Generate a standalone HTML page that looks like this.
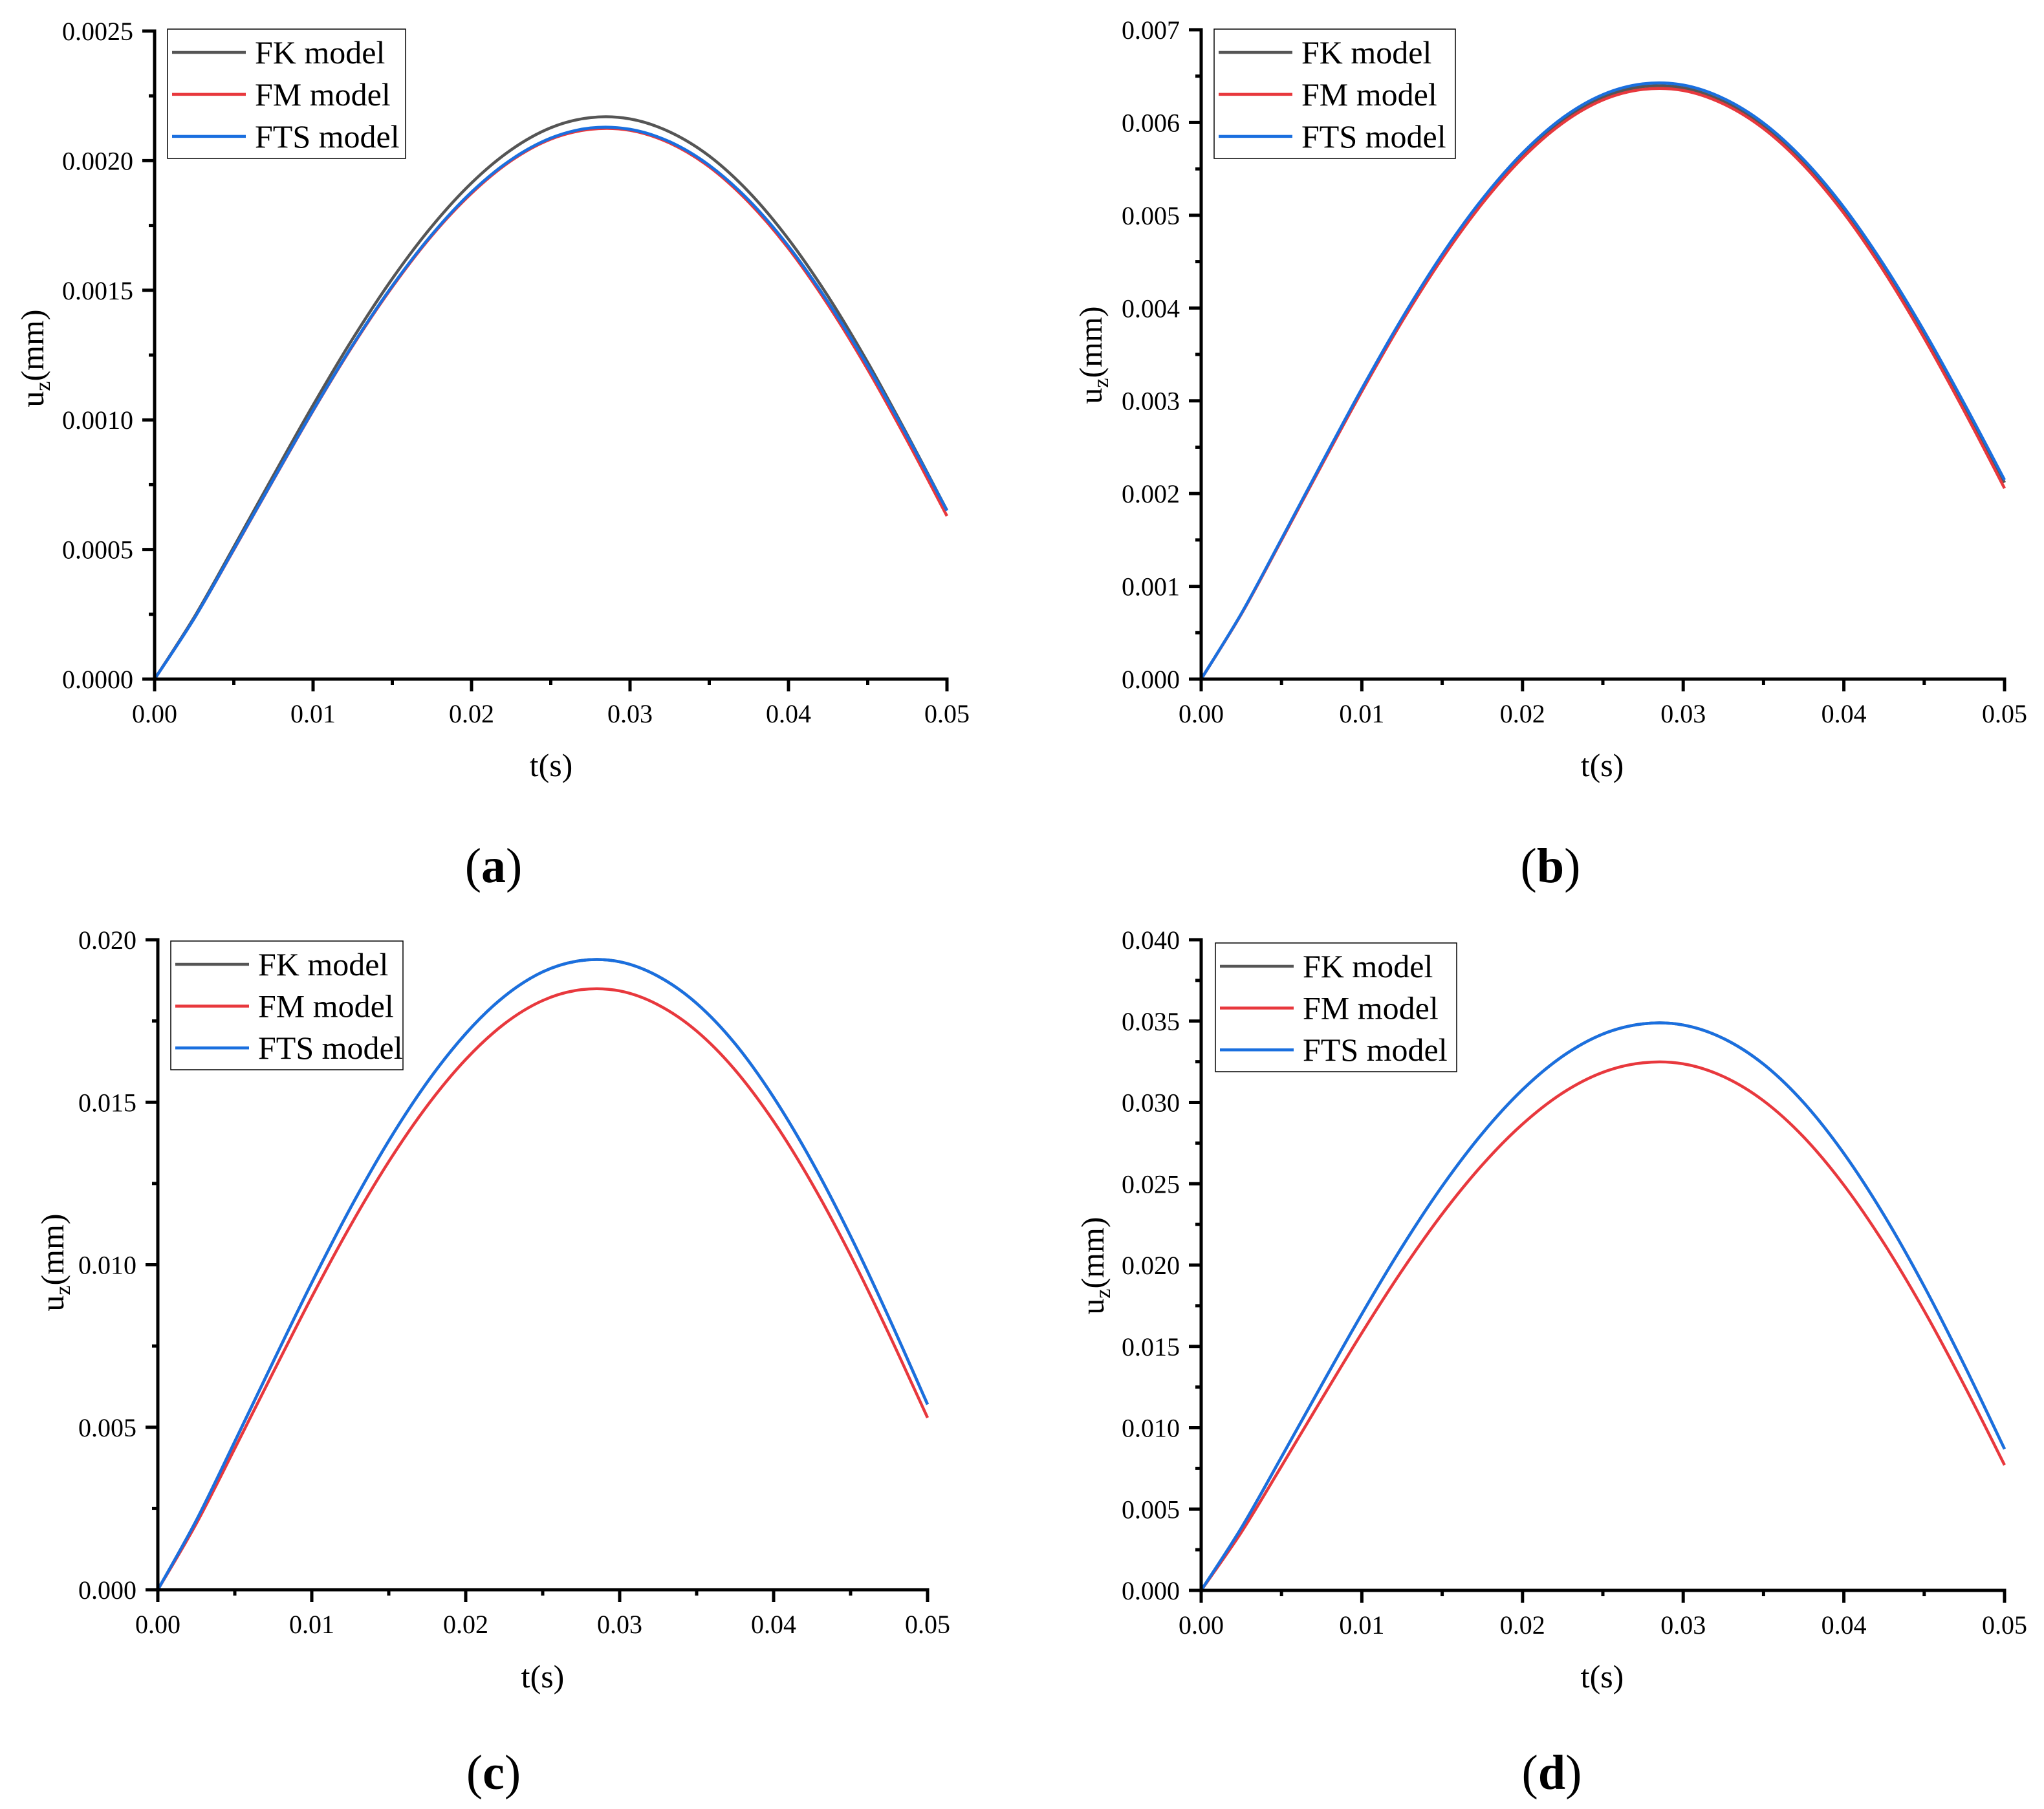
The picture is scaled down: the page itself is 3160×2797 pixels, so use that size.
<!DOCTYPE html>
<html><head><meta charset="utf-8"><style>
html,body{margin:0;padding:0;background:#fff;}
svg{display:block;font-family:"Liberation Serif","Times New Roman",serif;}
</style></head><body>
<svg id="fig" width="3160" height="2797" viewBox="0 0 3160 2797" xmlns="http://www.w3.org/2000/svg"></svg>
<script>
// shared time samples (s)
const tValues = [0,0.0025,0.005,0.0075,0.01,0.0125,0.015,0.0175,0.02,0.0225,0.025,0.0275,0.03,0.0325,0.035,0.0375,0.04,0.0425,0.045,0.0475,0.05];
const xTicks = [0,0.01,0.02,0.03,0.04,0.05];
const xTickLabels = ["0.00","0.01","0.02","0.03","0.04","0.05"];
const seriesNames = ["FK model","FM model","FTS model"];

// panel (a)
const aFK  = [0,0.000239,0.000510,0.000786,0.001057,0.001313,0.001545,0.001747,0.001914,0.002042,0.002127,0.002166,0.002161,0.002111,0.002018,0.001879,0.001697,0.001476,0.001222,0.000942,0.000651];
const aFM  = [0,0.000234,0.000499,0.000769,0.001035,0.001286,0.001513,0.001711,0.001874,0.002000,0.002083,0.002121,0.002117,0.002068,0.001976,0.001839,0.001661,0.001443,0.001194,0.000919,0.000629];
const aFTS = [0,0.000234,0.000501,0.000771,0.001037,0.001289,0.001517,0.001715,0.001879,0.002004,0.002087,0.002126,0.002121,0.002073,0.001982,0.001847,0.001670,0.001454,0.001208,0.000936,0.000650];
const aYTicks = ["0.0000","0.0005","0.0010","0.0015","0.0020","0.0025"];
// panel (b)
const bFK  = [0,0.000704,0.001504,0.002317,0.003117,0.003872,0.004557,0.005152,0.005645,0.006022,0.006272,0.006387,0.006374,0.006227,0.005966,0.005571,0.005057,0.004434,0.003722,0.002939,0.002118];
const bFM  = [0,0.000701,0.001497,0.002306,0.003102,0.003854,0.004535,0.005128,0.005618,0.005994,0.006243,0.006357,0.006345,0.006201,0.005934,0.005538,0.005021,0.004394,0.003675,0.002887,0.002057];
const bFTS = [0,0.000707,0.001511,0.002328,0.003131,0.003890,0.004578,0.005176,0.005671,0.006051,0.006301,0.006417,0.006404,0.006260,0.005994,0.005600,0.005086,0.004462,0.003750,0.002968,0.002147];
const bYTicks = ["0.000","0.001","0.002","0.003","0.004","0.005","0.006","0.007"];
// panel (c)
const cFK  = [0,0.002134,0.004559,0.007023,0.009448,0.011737,0.013813,0.015617,0.017111,0.018255,0.019012,0.019361,0.019322,0.018876,0.018042,0.016800,0.015152,0.013162,0.010878,0.008361,0.005703];
const cFM  = [0,0.002035,0.004348,0.006697,0.009010,0.011193,0.013172,0.014893,0.016317,0.017409,0.018130,0.018463,0.018426,0.017997,0.017191,0.015990,0.014411,0.012493,0.010291,0.007859,0.005291];
const cFTS = [0,0.002134,0.004559,0.007023,0.009448,0.011737,0.013813,0.015617,0.017111,0.018255,0.019012,0.019361,0.019322,0.018876,0.018042,0.016800,0.015152,0.013162,0.010878,0.008361,0.005703];
const cYTicks = ["0.000","0.005","0.010","0.015","0.020"];
// panel (d)
const dFK  = [0,0.003839,0.008202,0.012634,0.016996,0.021115,0.024849,0.028095,0.030782,0.032841,0.034202,0.034830,0.034760,0.033931,0.032350,0.029984,0.026864,0.023065,0.018687,0.013837,0.008690];
const dFM  = [0,0.003575,0.007638,0.011765,0.015828,0.019663,0.023140,0.026163,0.028665,0.030583,0.031850,0.032435,0.032370,0.031591,0.030101,0.027868,0.024920,0.021328,0.017184,0.012588,0.007705];
const dFTS = [0,0.003839,0.008202,0.012634,0.016996,0.021115,0.024849,0.028095,0.030782,0.032841,0.034202,0.034830,0.034760,0.033931,0.032350,0.029984,0.026864,0.023065,0.018687,0.013837,0.008690];
const dYTicks = ["0.000","0.005","0.010","0.015","0.020","0.025","0.030","0.035","0.040"];

const NS = "http://www.w3.org/2000/svg";
const svg = document.getElementById('fig');
const colors = ["#555555","#e8383d","#1a6fdf"];

function mk(tag, attrs, parent){
  const e = document.createElementNS(NS, tag);
  for (const k in attrs) e.setAttribute(k, attrs[k]);
  parent.appendChild(e);
  return e;
}

function smoothPath(pts){
  let d = "M" + pts[0][0].toFixed(1) + "," + pts[0][1].toFixed(1);
  for (let i=0;i<pts.length-1;i++){
    const p0 = pts[Math.max(0,i-1)], p1 = pts[i], p2 = pts[i+1], p3 = pts[Math.min(pts.length-1,i+2)];
    const c1x = p1[0]+(p2[0]-p0[0])/6, c1y = p1[1]+(p2[1]-p0[1])/6;
    const c2x = p2[0]-(p3[0]-p1[0])/6, c2y = p2[1]-(p3[1]-p1[1])/6;
    d += " C"+c1x.toFixed(1)+","+c1y.toFixed(1)+" "+c2x.toFixed(1)+","+c2y.toFixed(1)+" "+p2[0].toFixed(1)+","+p2[1].toFixed(1);
  }
  return d;
}

function panel(cfg){
  const g = mk('g', {}, svg);
  
  
  const yMax = parseFloat(cfg.yTicks[cfg.yTicks.length-1]);
  const X = v => cfg.x0 + (v/0.05)*(cfg.x1-cfg.x0);
  const Y = v => cfg.y0 - (v/yMax)*(cfg.y0-cfg.yTop);

  const series = [cfg.fk, cfg.fm, cfg.fts];
  series.forEach((arr, si) => {
    const pts = arr.map((v,i)=>[X(tValues[i]), Y(v)]);
    const p = mk('path', {d: smoothPath(pts), fill:'none', stroke: colors[si], 'stroke-width': 4.5, 'stroke-linejoin':'round'}, g);
    
    
  });

  const ax = mk('path', {d: "M"+cfg.x0+","+cfg.yTop+" L"+cfg.x0+","+cfg.y0+" L"+cfg.x1+","+cfg.y0, fill:'none', stroke:'#000', 'stroke-width':5, 'stroke-linecap':'square'}, g);
  
  

  xTicks.forEach((v,i) => {
    const x = X(v);
    mk('line', {x1:x, y1:cfg.y0, x2:x, y2:cfg.y0+19, stroke:'#000', 'stroke-width':5}, g);
    if (i < xTicks.length-1){
      const xm = X(v+0.005);
      mk('line', {x1:xm, y1:cfg.y0, x2:xm, y2:cfg.y0+9, stroke:'#000', 'stroke-width':5}, g);
    }
    const t = mk('text', {x:x, y:cfg.y0+67, 'font-size':40, 'text-anchor':'middle'}, g);
    t.textContent = xTickLabels[i];
    
    
  });
  cfg.yTicks.forEach((lab,i) => {
    const v = parseFloat(lab);
    const y = Y(v);
    mk('line', {x1:cfg.x0-19, y1:y, x2:cfg.x0, y2:y, stroke:'#000', 'stroke-width':5}, g);
    if (i < cfg.yTicks.length-1){
      const step = parseFloat(cfg.yTicks[1]) - parseFloat(cfg.yTicks[0]);
      const ym = Y(v + step/2);
      mk('line', {x1:cfg.x0-9, y1:ym, x2:cfg.x0, y2:ym, stroke:'#000', 'stroke-width':5}, g);
    }
    const t = mk('text', {x:cfg.x0-33, y:y+14, 'font-size':40, 'text-anchor':'end'}, g);
    t.textContent = lab;
    
    
  });

  const xt = mk('text', {x:cfg.xtX, y:cfg.xtY+17, 'font-size':50, 'text-anchor':'middle'}, g);
  xt.textContent = 't(s)';
  
  
  const yt = mk('text', {x:0, y:0, 'font-size':50, 'text-anchor':'middle', transform:'translate('+(cfg.ytX+17)+','+cfg.ytY+') rotate(-90)'}, g);
  
  
  const s1 = mk('tspan', {}, yt); s1.textContent = 'u';
  const s2 = mk('tspan', {'font-size':34, dy:10}, yt); s2.textContent = 'z';
  const s3 = mk('tspan', {dy:-10}, yt); s3.textContent = '(mm)';

  const lg = mk('g', {}, g);
  
  
  mk('rect', {x:cfg.lx, y:cfg.ly, width:cfg.lw, height:cfg.lh, fill:'#fff', stroke:'#000', 'stroke-width':1.5}, lg);
  const rowGap = cfg.lh/3.08;
  seriesNames.forEach((nm, si) => {
    const ry = cfg.ly + 36 + si*rowGap;
    const ent = mk('g', {}, lg);
    
    
    mk('line', {x1:cfg.lx+7, y1:ry, x2:cfg.lx+121, y2:ry, stroke:colors[si], 'stroke-width':4.5}, ent);
    const t = mk('text', {x:cfg.lx+135, y:ry+17, 'font-size':50}, ent);
    t.textContent = nm;
  });

  const cp = mk('text', {x:cfg.capX, y:cfg.capY+25, 'font-size':76, 'font-weight':'bold', 'text-anchor':'middle'}, g);
  
  
  const c1 = mk('tspan', {'font-weight':'normal'}, cp); c1.textContent = '(';
  const c2 = mk('tspan', {}, cp); c2.textContent = cfg.id;
  const c3 = mk('tspan', {'font-weight':'normal'}, cp); c3.textContent = ')';
}

panel({id:'a', fk:aFK, fm:aFM, fts:aFTS, yTicks:aYTicks, x0:239, x1:1464, y0:1050, yTop:48,
  lx:259, ly:45, lw:368, lh:200, xtX:852, xtY:1183, ytX:50, ytY:554, capX:763, capY:1339});
panel({id:'b', fk:bFK, fm:bFM, fts:bFTS, yTicks:bYTicks, x0:1857, x1:3099, y0:1050, yTop:46,
  lx:1877, ly:45, lw:373, lh:200, xtX:2477, xtY:1183, ytX:1686, ytY:549, capX:2397, capY:1339});
panel({id:'c', fk:cFK, fm:cFM, fts:cFTS, yTicks:cYTicks, x0:244, x1:1434, y0:2458, yTop:1453,
  lx:264, ly:1455, lw:359, lh:199, xtX:839, xtY:2592, ytX:81, ytY:1952, capX:763, capY:2741});
panel({id:'d', fk:dFK, fm:dFM, fts:dFTS, yTicks:dYTicks, x0:1857, x1:3099, y0:2459, yTop:1453,
  lx:1879, ly:1458, lw:373, lh:199, xtX:2477, xtY:2592, ytX:1689, ytY:1957, capX:2399, capY:2741});
</script>
</body></html>
